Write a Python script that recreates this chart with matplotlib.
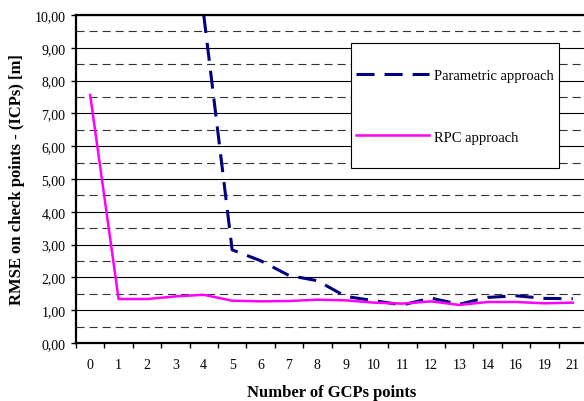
import numpy as np
import matplotlib
matplotlib.use("Agg")
import matplotlib.pyplot as plt
from matplotlib.patches import Rectangle
from matplotlib.ticker import FuncFormatter, MultipleLocator

plt.rcParams['font.family'] = ['Liberation Serif', 'DejaVu Serif']
plt.rcParams['lines.scale_dashes'] = False

# number of GCPs used (categorical axis)
gcp_labels = ['0', '1', '2', '3', '4', '5', '6', '7', '8', '9', '10',
              '11', '12', '13', '14', '16', '19', '21']

# RMSE on ICPs [m]; parametric has no value below 4 GCPs
parametric = [np.nan, np.nan, np.nan, np.nan, 10.0, 2.84, 2.51, 2.06, 1.90,
              1.42, 1.29, 1.16, 1.37, 1.18, 1.39, 1.44, 1.36, 1.35]
rpc = [7.56, 1.34, 1.34, 1.42, 1.47, 1.29, 1.27, 1.28, 1.32, 1.30, 1.23,
       1.20, 1.27, 1.16, 1.25, 1.25, 1.21, 1.23]

x = np.arange(len(gcp_labels))

fig = plt.figure(figsize=(5.84, 4.02), dpi=100)
ax = fig.add_axes([76 / 584, 1 - 344 / 402, 511 / 584, 328 / 402])

# grid: solid at integers, dashed at halves
ax.set_ylim(0, 10)
ax.yaxis.set_major_locator(MultipleLocator(1))
ax.yaxis.set_minor_locator(MultipleLocator(0.5))
ax.grid(True, which='major', axis='y', color='black', linewidth=0.8)
ax.grid(True, which='minor', axis='y', color='#333333', linewidth=0.8,
        dashes=(5.8, 3.6))
ax.set_axisbelow(True)

ax.plot(x, parametric, color='#000080', linewidth=2.2, dashes=(13, 7.2),
        label='Parametric approach')
ax.plot(x, rpc, color='#FF00FF', linewidth=1.8, label='RPC approach')

ax.set_xlim(-0.5, len(gcp_labels) - 0.5)
ax.set_xticks(x)
ax.set_xticklabels(gcp_labels)
ax.set_xticks(np.arange(-0.5, len(gcp_labels), 1), minor=True)
ax.tick_params(axis='x', which='major', length=0, pad=11, labelsize=10)
ax.tick_params(axis='x', which='minor', length=3.5, width=1, direction='out')
ax.tick_params(axis='y', which='major', length=3.6, width=1, direction='out',
               pad=4, labelsize=10)
ax.tick_params(axis='y', which='minor', length=0)
ax.yaxis.set_major_formatter(FuncFormatter(lambda v, p: f"{v:.2f}".replace('.', ',')))

for side in ['left', 'bottom', 'top']:
    ax.spines[side].set_linewidth(1.6)
ax.spines['right'].set_visible(False)

ax.set_xlabel('Number of GCPs points', fontsize=12, fontweight='bold', labelpad=9)
ax.set_ylabel('RMSE on check points - (ICPs) [m]', fontsize=12,
              fontweight='bold', labelpad=7)

# legend frame drawn separately so the box can be taller than its content
ax.add_patch(Rectangle((351 / 584, 1 - 169 / 402), 208 / 584, 125 / 402,
                       transform=fig.transFigure, facecolor='white',
                       edgecolor='black', linewidth=0.8, zorder=4,
                       clip_on=False))
leg = ax.legend(loc='upper left', bbox_to_anchor=(356 / 584, 1 - 70 / 402),
                bbox_transform=fig.transFigure, fontsize=10.5, frameon=False,
                handlelength=5.0, handletextpad=0.34, labelspacing=3.3,
                borderpad=0, borderaxespad=0)
leg.set_zorder(5)

fig.savefig('out.png', dpi=100)
